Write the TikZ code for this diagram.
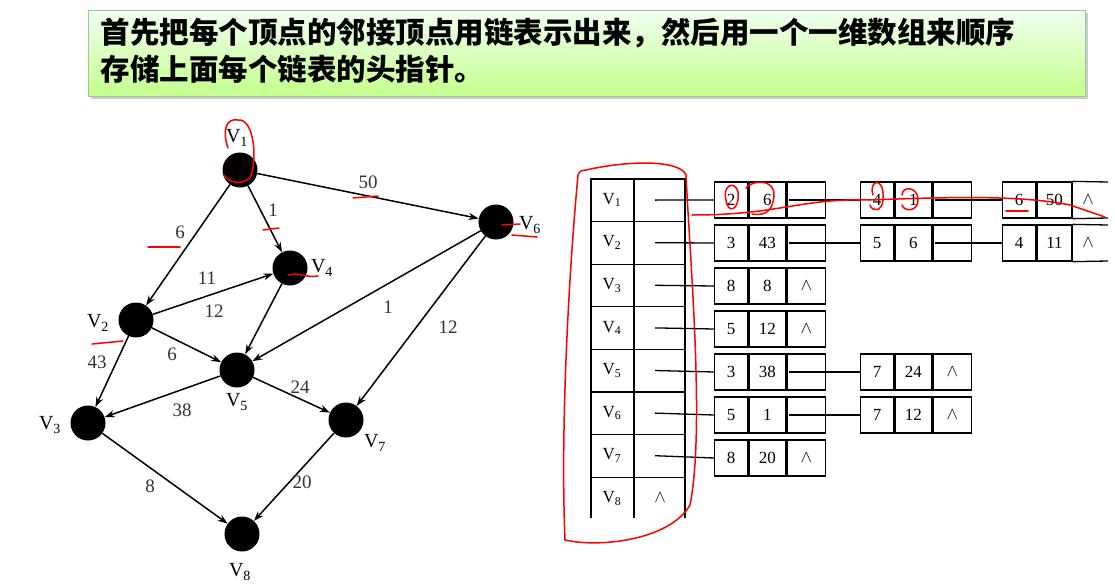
\documentclass[tikz,border=0pt]{standalone}
\usepackage{fontspec}
\setmainfont{Liberation Serif}
\newfontfamily\cjk{Noto Sans CJK SC}
\usetikzlibrary{arrows.meta,shadows}
\begin{document}
\begin{tikzpicture}[x=1pt,y=-1pt,
  vtx/.style={circle,fill=black,minimum size=35pt,inner sep=0pt},
  lab/.style={font=\fontsize{20}{20}\selectfont,inner sep=1pt},
  wt/.style={font=\fontsize{19}{19}\selectfont,inner sep=1pt,text=black!80},
  edge/.style={-{Stealth[length=10pt,width=7pt]},line width=1.5pt},
  cell/.style={draw,line width=1.3pt,minimum height=36pt,inner sep=0pt,font=\fontsize{17}{17}\selectfont,anchor=west},
  lnk/.style={line width=1.3pt},
  ann/.style={red,line width=1.5pt,line cap=round}]
\useasboundingbox (0,0) rectangle (1115,586);
\fill[white] (0,0) rectangle (1115,586);
% title
\node[draw=green!45!black!40,line width=0.6pt,top color=green!6,bottom color=green!35!lime!45,
  drop shadow={opacity=0.4},minimum width=997pt,minimum height=86pt,anchor=north west] (title) at (88,10) {};
\node[anchor=north west,align=left,font=\cjk\bfseries\fontsize{29.5}{37}\selectfont] (tt) at (97,14)
  {首先把每个顶点的邻接顶点用链表示出来，然后用一个一维数组来顺序\\存储上面每个链表的头指针。};
% graph
\node[vtx] (v1) at (240,170) {};
\node[vtx] (v2) at (136,320) {};
\node[vtx] (v3) at (88,423) {};
\node[vtx] (v4) at (290,268) {};
\node[vtx] (v5) at (237,370) {};
\node[vtx] (v6) at (496,222) {};
\node[vtx] (v7) at (346,420) {};
\node[vtx] (v8) at (242,534) {};
\node[lab] (l1) at (237,138) {V\textsubscript{1}};
\node[lab] (l2) at (98,323) {V\textsubscript{2}};
\node[lab] (l3) at (50,425) {V\textsubscript{3}};
\node[lab] (l4) at (322,268) {V\textsubscript{4}};
\node[lab] (l5) at (237,402) {V\textsubscript{5}};
\node[lab] (l6) at (530,225) {V\textsubscript{6}};
\node[lab] (l7) at (375,443) {V\textsubscript{7}};
\node[lab] (l8) at (240,572) {V\textsubscript{8}};
\draw[edge] (v1) -- (v2);
\draw[edge] (v1) -- (v4);
\draw[edge] (v1) -- (v6);
\draw[edge] (v2) -- (v4);
\draw[edge] (v2) -- (v5);
\draw[edge] (v2) -- (v3);
\draw[edge] (v4) -- (v5);
\draw[edge] (v6) -- (v5);
\draw[edge] (v6) -- (v7);
\draw[edge] (v5) -- (v3);
\draw[edge] (v5) -- (v7);
\draw[edge] (v3) -- (v8);
\draw[edge] (v7) -- (v8);
\node[wt] (w1) at (368,182) {50};
\node[wt] (w2) at (273,210) {1};
\node[wt] (w3) at (180,232) {6};
\node[wt] (w4) at (207,278) {11};
\node[wt] (w5) at (214,311) {12};
\node[wt] (w6) at (388,307) {1};
\node[wt] (w7) at (448,327) {12};
\node[wt] (w8) at (97,362) {43};
\node[wt] (w9) at (172,354) {6};
\node[wt] (w10) at (300,387) {24};
\node[wt] (w11) at (182,410) {38};
\node[wt] (w12) at (150,486) {8};
\node[wt] (w13) at (302,482) {20};
% table
\foreach \i in {1,...,8} {
  \node[lab,font=\fontsize{17}{17}\selectfont] (t\i) at (612,{157.5+42.6*\i}) {V\textsubscript{\i}};
}
\draw[line width=1.3pt] (591,518) -- (591,179) -- (685,179) -- (685,518);
\draw[line width=1.3pt] (634,179) -- (634,518);
\foreach \k in {1,...,7} \draw[line width=1.3pt] (591,{179+42.6*\k}) -- (685,{179+42.6*\k});
\node[font=\fontsize{17}{17}\selectfont] (n8) at (660,498) {$\wedge$};
% lists
\newcommand{\lrow}[5]{% name, x, y, a, b
  \node[cell,minimum width=33pt] (#1a) at (#2,#3) {#4};
  \node[cell,minimum width=37pt] (#1b) at (#1a.east) {#5};
  \node[cell,minimum width=38pt] (#1c) at (#1b.east) {};}
\newcommand{\lend}[5]{%
  \node[cell,minimum width=33pt] (#1a) at (#2,#3) {#4};
  \node[cell,minimum width=37pt] (#1b) at (#1a.east) {#5};
  \node[cell,minimum width=38pt] (#1c) at (#1b.east) {$\wedge$};}
\lrow{r1x}{714}{200}{2}{6}
\lrow{r1y}{860}{200}{4}{1}
\lrow{r2x}{714}{243}{3}{43}
\lrow{r2y}{860}{243}{5}{6}
\lend{r3x}{714}{286}{8}{8}
\lend{r4x}{714}{329}{5}{12}
\lrow{r5x}{714}{372}{3}{38}
\lend{r5y}{860}{372}{7}{24}
\lrow{r6x}{714}{415}{5}{1}
\lend{r6y}{860}{415}{7}{12}
\lend{r7x}{714}{458}{8}{20}
% third column, open on the right
\foreach \n/\y/\a/\b in {r1z/200/6/50, r2z/243/4/11} {
  \node[cell,minimum width=33pt] (\n a) at (1002,\y) {\a};
  \node[cell,minimum width=35pt] (\n b) at (\n a.east) {\b};
  \node[font=\fontsize{17}{17}\selectfont] (\n c) at (1088,\y) {$\wedge$};
  \draw[line width=1.3pt] (\n b.north east) -- (1108,{\y-18});
  \draw[line width=1.3pt] (\n b.south east) -- (1108,{\y+18});
}
\foreach \i/\t in {1/r1x,2/r2x,3/r3x,4/r4x,5/r5x,6/r6x,7/r7x}
  \draw[lnk] (655,{157.5+42.6*\i}) -- (\t a.west);
\foreach \s/\t in {r1x/r1y,r2x/r2y,r5x/r5y,r6x/r6y}
  \draw[lnk] ([xshift=-17pt]\s c.center) -- (\t a.west);
\foreach \s/\t in {r1y/r1z,r2y/r2z}
  \draw[lnk] ([xshift=-17pt]\s c.center) -- (\t a.west);
% red annotations
\draw[ann] (228,148) .. controls (222,130) and (226,118) .. (238,120) .. controls (254,118) and (258,160) .. (250,178) .. controls (240,186) and (228,182) .. (224,175);
\draw[ann] (353,198) -- (378,196);
\draw[ann] (263,230) -- (279,228);
\draw[ann] (148,247) -- (180,247);
\draw[ann] (288,275) .. controls (300,272) and (305,278) .. (318,276);
\draw[ann] (502,225) -- (520,224);
\draw[ann] (512,235) -- (537,237);
\draw[ann] (92,344) -- (123,341);
\draw[ann] (586,170) .. controls (630,160) and (680,160) .. (686,175) .. controls (690,260) and (705,430) .. (690,505) .. controls (670,540) and (600,548) .. (565,540) .. controls (560,420) and (570,260) .. (578,175) .. controls (580,170) and (583,170) .. (586,170);
\draw[ann] (726,200) .. controls (722,185) and (735,180) .. (738,192) .. controls (740,210) and (728,215) .. (726,200);
\draw[ann] (746,188) .. controls (752,180) and (775,178) .. (774,196) .. controls (772,216) and (760,215) .. (752,214);
\draw[ann] (873,195) .. controls (868,180) and (885,175) .. (883,200) .. controls (882,212) and (872,212) .. (870,205);
\draw[ann] (902,195) .. controls (902,186) and (918,186) .. (918,200) .. controls (918,212) and (904,212) .. (902,205);
\draw[ann] (692,215) .. controls (780,215) and (800,198) .. (870,200) .. controls (950,197) and (1020,195) .. (1070,205) -- (1105,217);
\draw[ann] (1006,211) -- (1028,211);
\end{tikzpicture}
\end{document}
